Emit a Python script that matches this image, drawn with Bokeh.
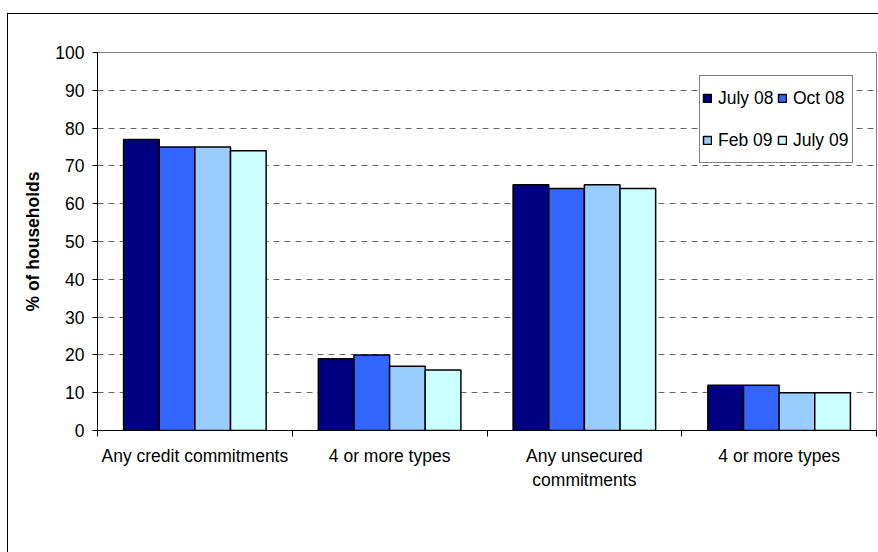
from bokeh.plotting import figure
from bokeh.models import (ColumnDataSource, Range1d, FixedTicker, Legend, LegendItem)
from bokeh.transform import dodge
from bokeh.embed import file_html
from bokeh.resources import INLINE

categories = ["Any credit commitments", "4 or more types",
              "Any unsecured\ncommitments", "4 or more types"]
series = ["July 08", "Oct 08", "Feb 09", "July 09"]
july08 = [77, 19, 65, 12]
oct08 = [75, 20, 64, 12]
feb09 = [75, 17, 65, 10]
july09 = [74, 16, 64, 10]
colors = ["#000080", "#3366FF", "#99CCFF", "#CCFFFF"]
y_ticks = list(range(0, 101, 10))

FONT = "Liberation Sans"
FS = "17.5px"

centers = [i + 0.5 for i in range(len(categories))]
src = ColumnDataSource(dict(x=centers, july08=july08, oct08=oct08,
                            feb09=feb09, july09=july09))

p = figure(width=870, height=538, output_backend="svg", toolbar_location=None,
           x_range=Range1d(0, len(categories)), y_range=Range1d(0, 100),
           min_border_left=89, min_border_right=2, min_border_top=38,
           min_border_bottom=122)
# outer chart-area border (only its left and top edges fall inside the window)
p.styles = {"margin-left": "8px", "margin-top": "14px", "outline": "1.5px solid black"}
p.background_fill_color = "white"
p.border_fill_color = "white"
p.outline_line_color = "#808080"
p.outline_line_width = 1

bw = 0.183
offsets = [-1.5 * bw, -0.5 * bw, 0.5 * bw, 1.5 * bw]
fields = ["july08", "oct08", "feb09", "july09"]
renderers = []
for f, off, c in zip(fields, offsets, colors):
    r = p.vbar(x=dodge("x", off), top=f, width=bw, source=src,
               fill_color=c, line_color="black", line_width=1.5)
    renderers.append(r)

# axes
xa = p.xaxis[0]
xa.ticker = FixedTicker(ticks=centers, minor_ticks=list(range(len(categories) + 1)))
xa.major_label_overrides = {c: lab for c, lab in zip(centers, categories)}
xa.major_tick_out = 0
xa.major_tick_in = 0
xa.minor_tick_out = 6
xa.minor_tick_in = 0
xa.minor_tick_line_color = "black"
xa.axis_line_color = "black"
xa.axis_line_width = 1
xa.major_label_text_font = FONT
xa.major_label_text_font_size = FS
xa.major_label_text_color = "black"
xa.major_label_standoff = 9

ya = p.yaxis[0]
ya.ticker = FixedTicker(ticks=y_ticks, minor_ticks=[])
ya.major_tick_out = 5
ya.major_tick_in = 0
ya.major_tick_line_color = "black"
ya.axis_line_color = "black"
ya.major_label_text_font = FONT
ya.major_label_text_font_size = FS
ya.major_label_text_color = "black"
ya.major_label_standoff = 8
ya.axis_label = "% of households"
ya.axis_label_text_font = FONT
ya.axis_label_text_font_size = FS
ya.axis_label_text_font_style = "bold"
ya.axis_label_text_color = "black"
ya.axis_label_standoff = 9

p.xgrid.visible = False
p.ygrid.ticker = FixedTicker(ticks=y_ticks)
p.ygrid.grid_line_color = "#666666"
p.ygrid.grid_line_dash = "6 5"
p.ygrid.grid_line_width = 1

order = [0, 2, 1, 3]  # row-major reading: July 08, Oct 08 / Feb 09, July 09
legend = Legend(items=[LegendItem(label=series[i], renderers=[renderers[i]]) for i in order],
                location="top_right", ncols=2, margin=23, padding=2, spacing=2,
                glyph_width=10, glyph_height=10, label_standoff=6,
                label_height=40, label_width=57,
                label_text_font=FONT, label_text_font_size=FS,
                label_text_color="black",
                border_line_color="black", border_line_width=1,
                background_fill_color="white", background_fill_alpha=1)
p.add_layout(legend)

open("out.html", "w").write(file_html(p, INLINE))
